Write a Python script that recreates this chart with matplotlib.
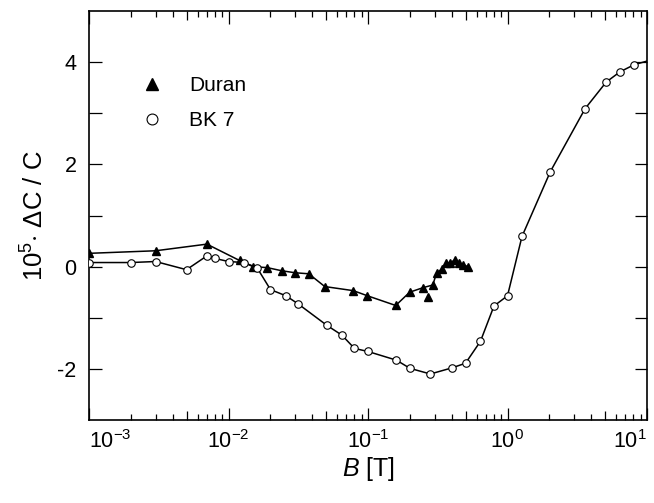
import numpy as np
import matplotlib
matplotlib.use("Agg")
import matplotlib.pyplot as plt
from matplotlib.ticker import FixedLocator, NullFormatter, LogLocator

plt.rcParams["font.family"] = "Liberation Sans"
plt.rcParams["mathtext.fontset"] = "custom"
plt.rcParams["mathtext.rm"] = "Liberation Sans"
plt.rcParams["mathtext.it"] = "Liberation Sans:italic"
plt.rcParams["axes.unicode_minus"] = False

# --- values ---
# Duran glass: field B [T] and 1e5 * dC/C
duran_B = [0.001, 0.003, 0.007, 0.012, 0.015, 0.019, 0.024, 0.030, 0.0376,
           0.049, 0.0785, 0.099, 0.158, 0.199, 0.249, 0.27, 0.291, 0.311,
           0.338, 0.363, 0.39, 0.419, 0.45, 0.483, 0.522]
duran_dC = [0.26, 0.31, 0.44, 0.12, 0.0, -0.02, -0.08, -0.12, -0.14,
            -0.39, -0.47, -0.57, -0.76, -0.50, -0.41, -0.59, -0.36, -0.12,
            -0.05, 0.07, 0.08, 0.13, 0.07, 0.03, 0.0]
# point that the guide line leaves out
duran_off_curve = [0.27]

# BK 7 glass
bk7_B = [0.001, 0.002, 0.003, 0.005, 0.007, 0.008, 0.010, 0.0129, 0.016,
         0.020, 0.0258, 0.0316, 0.0508, 0.065, 0.080, 0.100, 0.160, 0.200,
         0.280, 0.400, 0.500, 0.640, 0.800, 1.00, 1.27, 2.03, 3.6, 5.1,
         6.4, 8.1]
bk7_dC = [0.08, 0.08, 0.10, -0.06, 0.21, 0.16, 0.10, 0.08, -0.02,
          -0.45, -0.57, -0.73, -1.15, -1.34, -1.60, -1.66, -1.83, -1.99,
          -2.10, -1.98, -1.89, -1.46, -0.77, -0.57, 0.59, 1.86, 3.09, 3.61,
          3.81, 3.95]
# guide line continues to the right frame
bk7_line_end_B = [10.0]
bk7_line_end_dC = [4.02]

x_major = [1e-3, 1e-2, 1e-1, 1.0, 10.0]
x_mid = [5e-3, 5e-2, 5e-1, 5.0]

fig = plt.figure(figsize=(6.54, 5.03), dpi=100)
ax = fig.add_axes([89 / 654, 83 / 503, 558 / 654, 409 / 503])

# guide lines
duran_B_arr = np.array(duran_B)
duran_dC_arr = np.array(duran_dC)
keep = ~np.isin(duran_B_arr, duran_off_curve)
ax.plot(duran_B_arr[keep], duran_dC_arr[keep], "-", color="black", lw=1.1, zorder=2)
ax.plot(bk7_B + bk7_line_end_B, bk7_dC + bk7_line_end_dC, "-", color="black",
        lw=1.1, zorder=2)

# markers
ax.plot(duran_B, duran_dC, "^", ls="none", color="black", ms=6.4, zorder=3,
        label="Duran")
ax.plot(bk7_B, bk7_dC, "o", ls="none", mfc="white", mec="black", mew=0.8,
        ms=5.4, zorder=3, label="BK 7")

ax.set_xscale("log")
ax.set_xlim(1e-3, 10)
ax.set_ylim(-3, 5)

ax.yaxis.set_major_locator(FixedLocator([-2, 0, 2, 4]))
ax.yaxis.set_minor_locator(FixedLocator([-1, 1, 3]))
ax.xaxis.set_major_locator(FixedLocator(x_major))
ax.xaxis.set_minor_locator(LogLocator(base=10, subs=(2, 3, 4, 6, 7, 8, 9), numticks=10))
ax.xaxis.set_minor_formatter(NullFormatter())

ax.tick_params(axis="both", which="both", direction="in", top=True, right=True,
               width=0.9, labelsize=15.5)
ax.tick_params(axis="x", which="major", length=9, pad=7)
ax.tick_params(axis="x", which="minor", length=4.5)
ax.tick_params(axis="y", which="both", length=9, pad=9)

# medium ticks at 5 x 10^n, top and bottom
for side in ("bottom", "top"):
    sec = ax.secondary_xaxis(side)
    sec.set_xticks(x_mid)
    sec.xaxis.set_minor_locator(FixedLocator([]))
    sec.tick_params(axis="x", which="major", direction="in", length=6.5,
                    width=0.9, labelbottom=False, labeltop=False)
    sec.spines[side].set_visible(False)

for s in ax.spines.values():
    s.set_linewidth(1.2)

# end labels of the x axis sit inside the frame, as in the original
ticks = ax.xaxis.get_major_ticks()
ticks[0].label1.set_horizontalalignment("left")
ticks[-1].label1.set_horizontalalignment("right")

ax.set_xlabel(r"$B$ [T]", fontsize=18, labelpad=2)
ax.set_ylabel(r"$\mathregular{10^5}$$\cdot$ ΔC / C", fontsize=18.5, labelpad=6)

ax.legend(loc="upper left", bbox_to_anchor=(0.094, 0.84), frameon=False,
          fontsize=15, handlelength=1.0, handletextpad=1.3, labelspacing=0.75,
          borderaxespad=0, borderpad=0, markerscale=1.45)

fig.savefig("out.png", dpi=100)
